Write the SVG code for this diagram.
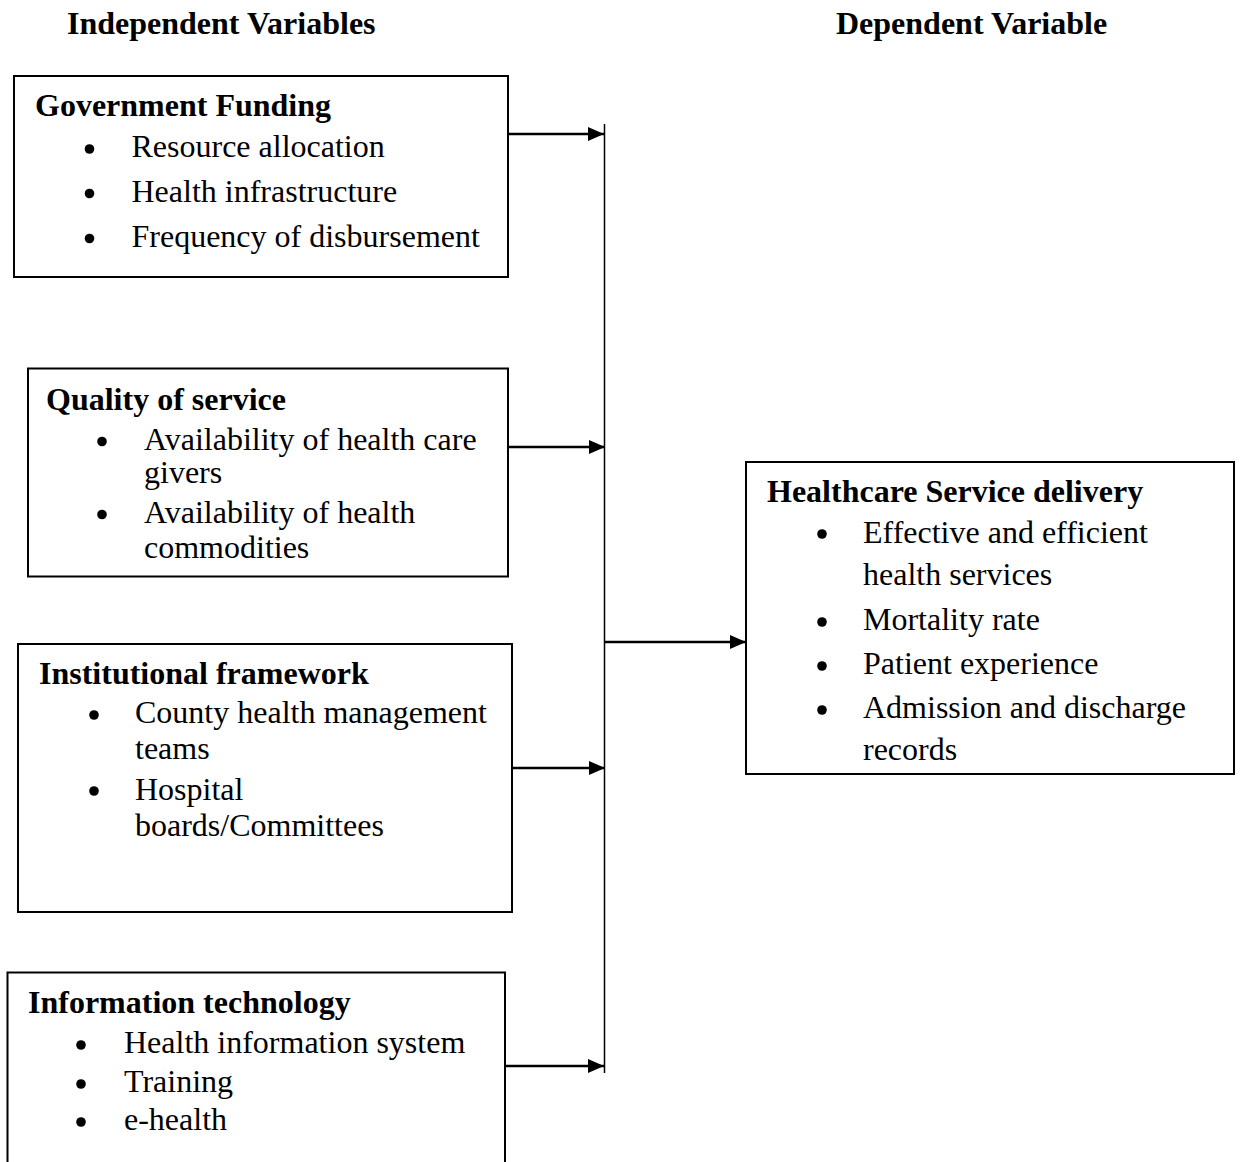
<svg xmlns="http://www.w3.org/2000/svg" width="1240" height="1162" viewBox="0 0 1240 1162">
<defs>
<marker id="ah" markerUnits="userSpaceOnUse" markerWidth="16" markerHeight="14" refX="16" refY="7" orient="auto">
<path d="M0,0 L16,7 L0,14 z" fill="#000"/>
</marker>
<style>
.box{fill:#fff;stroke:#000;stroke-width:2}
.t{font-family:"Liberation Serif","Times New Roman",serif;font-size:32px;fill:#000}
.b{font-weight:bold}
.dot{fill:#000}
.arr{stroke:#000;stroke-width:2.4;fill:none;marker-end:url(#ah)}
</style>
</defs>
<rect width="1240" height="1162" fill="#fff"/>
<text class="t b" x="67" y="34">Independent Variables</text>
<text class="t b" x="836" y="34">Dependent Variable</text>

<g id="gov">
<rect class="box" x="14" y="76" width="494" height="201"/>
<text class="t b" x="35" y="116">Government Funding</text>
<circle class="dot" cx="89.5" cy="149" r="4.8"/>
<circle class="dot" cx="89.5" cy="193.5" r="4.8"/>
<circle class="dot" cx="89.5" cy="238.5" r="4.8"/>
<text class="t" x="131.5" y="157">Resource allocation</text>
<text class="t" x="131.5" y="201.5">Health infrastructure</text>
<text class="t" x="131.5" y="246.5">Frequency of disbursement</text>
</g>

<g id="quality">
<rect class="box" x="28" y="368.5" width="480" height="208"/>
<text class="t b" x="46" y="410">Quality of service</text>
<circle class="dot" cx="102" cy="441.5" r="4.8"/>
<circle class="dot" cx="102" cy="514.5" r="4.8"/>
<text class="t" x="144" y="450">Availability of health care</text>
<text class="t" x="144" y="483">givers</text>
<text class="t" x="144" y="523">Availability of health</text>
<text class="t" x="144" y="558">commodities</text>
</g>

<g id="inst">
<rect class="box" x="18" y="644" width="494" height="268"/>
<text class="t b" x="39" y="684">Institutional framework</text>
<circle class="dot" cx="94" cy="715" r="4.8"/>
<circle class="dot" cx="94" cy="791" r="4.8"/>
<text class="t" x="135" y="723">County health management</text>
<text class="t" x="135" y="759">teams</text>
<text class="t" x="135" y="800">Hospital</text>
<text class="t" x="135" y="836">boards/Committees</text>
</g>

<g id="it">
<rect class="box" x="7.5" y="972.5" width="497.5" height="210"/>
<text class="t b" x="28" y="1013">Information technology</text>
<circle class="dot" cx="81" cy="1045" r="4.8"/>
<circle class="dot" cx="81" cy="1084" r="4.8"/>
<circle class="dot" cx="81" cy="1122" r="4.8"/>
<text class="t" x="124" y="1053">Health information system</text>
<text class="t" x="124" y="1092">Training</text>
<text class="t" x="124" y="1130">e-health</text>
</g>

<g id="hsd">
<rect class="box" x="746" y="462" width="488" height="312"/>
<text class="t b" x="767" y="501.5">Healthcare Service delivery</text>
<circle class="dot" cx="822" cy="534" r="4.8"/>
<circle class="dot" cx="822" cy="622" r="4.8"/>
<circle class="dot" cx="822" cy="666" r="4.8"/>
<circle class="dot" cx="822" cy="710" r="4.8"/>
<text class="t" x="863" y="542.5">Effective and efficient</text>
<text class="t" x="863" y="585">health services</text>
<text class="t" x="863" y="630">Mortality rate</text>
<text class="t" x="863" y="674">Patient experience</text>
<text class="t" x="863" y="718">Admission and discharge</text>
<text class="t" x="863" y="760">records</text>
</g>

<g id="connectors">
<line x1="604.5" y1="124" x2="604.5" y2="1073" stroke="#000" stroke-width="1.5"/>
<line class="arr" x1="508" y1="134" x2="604" y2="134"/>
<line class="arr" x1="508" y1="447" x2="605" y2="447"/>
<line class="arr" x1="512" y1="768" x2="605" y2="768"/>
<line class="arr" x1="505" y1="1066" x2="604" y2="1066"/>
<line class="arr" x1="604.5" y1="642" x2="746" y2="642"/>
</g>
</svg>
